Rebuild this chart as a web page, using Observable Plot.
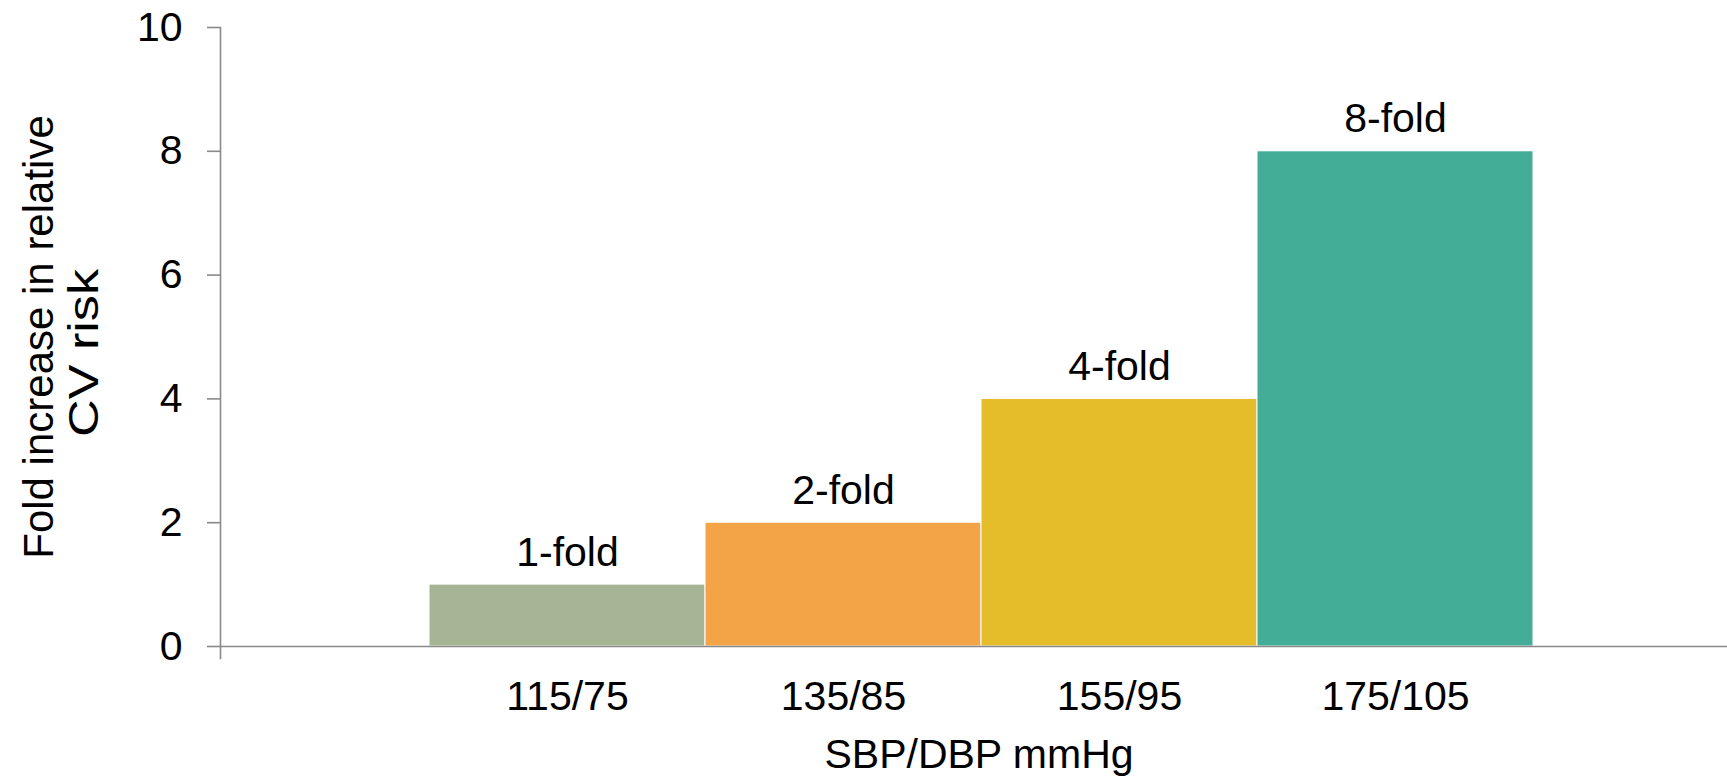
<!DOCTYPE html>
<html>
<head>
<meta charset="utf-8">
<script src="https://cdn.jsdelivr.net/npm/d3@7"></script>
<script src="https://cdn.jsdelivr.net/npm/@observablehq/plot@0.6"></script>
<style>
  html, body { margin: 0; padding: 0; background: #ffffff; }
  #chart svg { display: block; }
</style>
</head>
<body>
<div id="chart"></div>
<script>
const categories = ["115/75", "135/85", "155/95", "175/105"];
const foldValues = [1, 2, 4, 8];
const foldLabels = ["1-fold", "2-fold", "4-fold", "8-fold"];
const barColors = ["#A6B593", "#F2A447", "#E5BD2A", "#44AD98"];
const yTicks = [0, 2, 4, 6, 8, 10];
const xTitle = "SBP/DBP mmHg";
const yTitleLines = ["Fold increase in relative", "CV risk"];

const data = categories.map((c, i) => ({cat: c, value: foldValues[i], label: foldLabels[i]}));

const FONT = "'Liberation Sans', Arial, Helvetica, sans-serif";
const AXIS = "#898989";

const chart = Plot.plot({
  width: 1727,
  height: 779,
  marginTop: 27,
  marginBottom: 133,
  marginLeft: 220,
  marginRight: 0,
  style: {fontFamily: FONT, fontSize: "41px", color: "#000", background: "#fff", overflow: "visible"},
  x: {type: "band", domain: categories, range: [428, 1534], padding: 0},
  y: {domain: [0, 10]},
  color: {type: "ordinal", domain: categories, range: barColors},
  marks: [
    Plot.barY(data, {x: "cat", y: "value", fill: "cat", stroke: "#ffffff", strokeWidth: 1}),
    Plot.ruleY([0], {stroke: AXIS, strokeWidth: 1.6}),
    Plot.frame({anchor: "left", stroke: AXIS, strokeWidth: 1.6, insetBottom: -12}),
    Plot.axisY({ticks: yTicks, tickSize: 13, tickPadding: 25, stroke: AXIS, strokeWidth: 1.6, label: null, fontSize: 41}),
    Plot.axisX({tickSize: 0, tickPadding: 34, label: null, fontSize: 41}),
    Plot.text(data, {x: "cat", y: "value", text: "label", dy: -19, lineAnchor: "bottom", fontSize: 41, fill: "#000"}),
    Plot.text([xTitle], {frameAnchor: "bottom", dx: 5, dy: 121, lineAnchor: "bottom", fontSize: 41, fill: "#000"}),
    Plot.text([yTitleLines[0]], {frameAnchor: "left", dx: -181, dy: 0, rotate: -90, textAnchor: "middle", lineAnchor: "middle", fontSize: 42, fill: "#000"}),
    Plot.text([yTitleLines[1]], {frameAnchor: "left", dx: -136, dy: 16, rotate: -90, textAnchor: "middle", lineAnchor: "middle", fontSize: 42, fill: "#000"})
  ]
});

d3.select(chart).selectAll("text")
  .filter(function () { return this.textContent === yTitleLines[1]; })
  .attr("textLength", 168)
  .attr("lengthAdjust", "spacingAndGlyphs");

document.getElementById("chart").appendChild(chart);
</script>
</body>
</html>
